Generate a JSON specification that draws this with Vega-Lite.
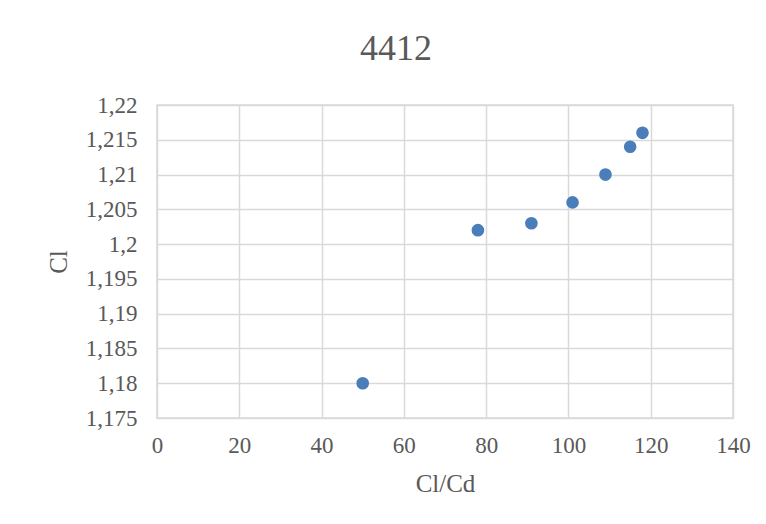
{
  "$schema": "https://vega.github.io/schema/vega-lite/v6.json",
  "autosize": {"type": "none"},
  "width": 576,
  "height": 313,
  "padding": {"left": 157, "top": 105, "right": 33, "bottom": 106},
  "background": "white",
  "title": {
    "text": "4412",
    "font": "Liberation Serif",
    "fontSize": 36,
    "fontWeight": "normal",
    "color": "#595959",
    "anchor": "middle",
    "frame": "group",
    "dx": -49,
    "offset": 26
  },
  "config": {
    "view": {"stroke": "#d9d9d9", "strokeWidth": 1.5},
    "axis": {
      "labelFont": "Liberation Serif",
      "titleFont": "Liberation Serif",
      "labelColor": "#595959",
      "titleColor": "#595959",
      "labelFontSize": 23,
      "titleFontSize": 25,
      "titleFontWeight": "normal",
      "gridColor": "#d9d9d9",
      "gridWidth": 1.5,
      "domain": false,
      "ticks": false
    }
  },
  "data": {
    "values": [
      {"ClCd": 50, "Cl": 1.18},
      {"ClCd": 78, "Cl": 1.202},
      {"ClCd": 91, "Cl": 1.203},
      {"ClCd": 101, "Cl": 1.206},
      {"ClCd": 109, "Cl": 1.21},
      {"ClCd": 115, "Cl": 1.214},
      {"ClCd": 118, "Cl": 1.216}
    ]
  },
  "mark": {"type": "point", "filled": true, "size": 160, "opacity": 1, "color": "#4a7ebb"},
  "encoding": {
    "x": {
      "field": "ClCd",
      "type": "quantitative",
      "title": "Cl/Cd",
      "scale": {"domain": [0, 140], "nice": false, "zero": false},
      "axis": {"values": [0, 20, 40, 60, 80, 100, 120, 140], "labelPadding": 16, "titlePadding": 14, "labelFlush": false}
    },
    "y": {
      "field": "Cl",
      "type": "quantitative",
      "title": "Cl",
      "scale": {"domain": [1.175, 1.22], "nice": false, "zero": false},
      "axis": {
        "values": [1.175, 1.18, 1.185, 1.19, 1.195, 1.2, 1.205, 1.21, 1.215, 1.22],
        "labelExpr": "replace(format(datum.value, '.3~f'), '.', ',')",
        "labelPadding": 20,
        "titlePadding": 14,
        "labelFlush": false
      }
    }
  }
}
